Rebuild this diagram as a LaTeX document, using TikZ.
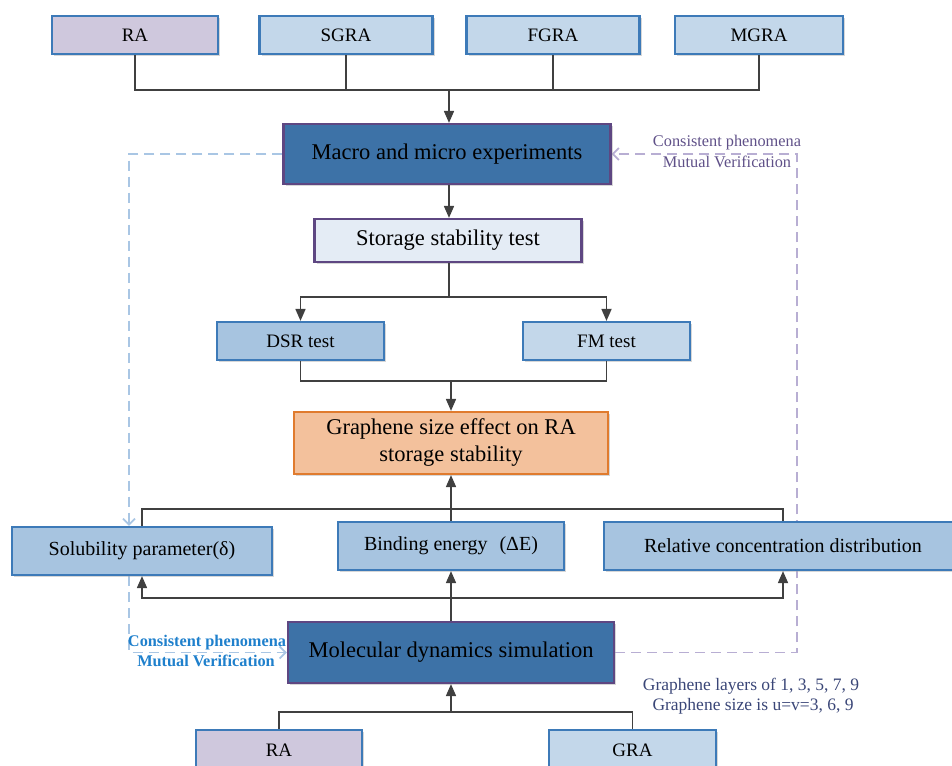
\documentclass[tikz,border=0pt]{standalone}
\usepackage{fontspec}
\setmainfont{Liberation Serif}
\usetikzlibrary{arrows.meta,shadows,backgrounds}
\definecolor{boxblue}{HTML}{3D7AB8}
\definecolor{lav}{HTML}{CFC8DD}
\definecolor{paleblue}{HTML}{C3D7EA}
\definecolor{midblue}{HTML}{A7C4E0}
\definecolor{darkblue}{HTML}{3D72A7}
\definecolor{purpleborder}{HTML}{5E4782}
\definecolor{storefill}{HTML}{E4ECF5}
\definecolor{orangefill}{HTML}{F3C19C}
\definecolor{orangeborder}{HTML}{E07B2E}
\definecolor{linegrey}{HTML}{404040}
\definecolor{dashblue}{HTML}{A9C6E4}
\definecolor{dashpurple}{HTML}{B8AED3}
\definecolor{txtpurple}{HTML}{5F5088}
\definecolor{txtblue}{HTML}{1F80CC}
\definecolor{txtnavy}{HTML}{3A4677}
\tikzset{
  base/.style={draw, line width=2.2pt, inner sep=0pt, text=black, align=center,
    drop shadow={shadow xshift=2pt, shadow yshift=-2pt, fill=black!35, opacity=0.45}},
  lavbox/.style={base, fill=lav, draw=boxblue},
  palebox/.style={base, fill=paleblue, draw=boxblue},
  midbox/.style={base, fill=midblue, draw=boxblue},
  darkbox/.style={base, fill=darkblue, draw=purpleborder},
  storebox/.style={base, fill=storefill, draw=purpleborder},
  orangebox/.style={base, fill=orangefill, draw=orangeborder},
  conn/.style={draw=linegrey, line width=1.7pt},
  arr/.style={conn, -{Triangle[length=12pt,width=10pt]}},
  dashb/.style={draw=dashblue, line width=1.8pt, dash pattern=on 10pt off 6pt, -{Straight Barb[length=6pt,width=12pt,line width=1.8pt]}},
  dashp/.style={draw=dashpurple, line width=1.8pt, dash pattern=on 10pt off 6pt, -{Straight Barb[length=6pt,width=12pt,line width=1.8pt]}},
  fsa/.style={font=\fontsize{19}{22}\selectfont},
  fsb/.style={font=\fontsize{20}{24}\selectfont},
  fsc/.style={font=\fontsize{22.5}{27}\selectfont},
}
\begin{document}
\begin{tikzpicture}[x=1pt,y=-1pt]
\useasboundingbox (0,0) rectangle (952,765);
\clip (0,0) rectangle (952,765);
% top row
\node[lavbox, fsa, minimum width=166pt, minimum height=38pt] (ra1) at (135,35) {RA};
\node[palebox, fsa, minimum width=173pt, minimum height=38pt] (sgra) at (346,35) {SGRA};
\node[palebox, fsa, minimum width=173pt, minimum height=38pt] (fgra) at (553,35) {FGRA};
\node[palebox, fsa, minimum width=168pt, minimum height=38pt] (mgra) at (759,35) {MGRA};
% main column
\node[darkbox, fsc, minimum width=327pt, minimum height=60pt] (macro) at (447,154) {Macro and micro experiments};
\node[storebox, fsc, minimum width=267pt, minimum height=43pt] (storage) at (448,240.5) {Storage stability test};
\node[midbox, fsa, minimum width=167pt, minimum height=38pt] (dsr) at (300.5,341) {DSR test};
\node[palebox, fsa, minimum width=167pt, minimum height=38pt] (fm) at (606.5,341) {FM test};
\node[orangebox, fsc, minimum width=314pt, minimum height=62pt] (graph) at (451,443) {Graphene size effect on RA\\storage stability};
\node[midbox, fsb, minimum width=260pt, minimum height=48pt] (sol) at (142,551) {Solubility parameter(δ)};
\node[midbox, fsb, minimum width=226pt, minimum height=48pt] (bind) at (451,546) {Binding energy\hspace{0.6em}(ΔE)};
\node[midbox, fsb, minimum width=358pt, minimum height=48pt] (rel) at (783,546) {Relative concentration distribution};
\node[darkbox, fsc, minimum width=326pt, minimum height=61pt] (mol) at (451,652.5) {Molecular dynamics simulation};
\node[lavbox, fsa, minimum width=166pt, minimum height=40pt] (ra2) at (279,750) {RA};
\node[palebox, fsa, minimum width=167pt, minimum height=40pt] (gra) at (632.5,750) {GRA};
% coordinates
\coordinate (b1) at (449,90);
\coordinate (b5) at (449,297);
\coordinate (b6) at (451,381);
\coordinate (b2) at (451,509);
\coordinate (b3) at (451,598);
\coordinate (b4) at (451,712);
\coordinate (dl) at (129,0);
\coordinate (dr) at (797,0);
% connectors
\draw[conn] (ra1.south) |- (b1) -| (mgra.south);
\draw[conn] (sgra.south) -- (sgra.south |- b1);
\draw[conn] (fgra.south) -- (fgra.south |- b1);
\draw[arr] (b1) -- (b1 |- macro.north);
\draw[arr] (b1 |- macro.south) -- (b1 |- storage.north);
\draw[conn] (b5 |- storage.south) -- (b5);
\draw[arr] (b5) -| (dsr.north);
\draw[arr] (b5) -| (fm.north);
\draw[conn] (dsr.south) |- (b6) -| (fm.south);
\draw[arr] (b6) -- (graph.north);
\draw[arr] (bind.north) -- (graph.south);
\draw[conn] (sol.north) |- (b2) -| (rel.north);
\draw[arr] (b3) -| (sol.south);
\draw[arr] (b3) -| (rel.south);
\draw[arr] (mol.north) -- (bind.south);
\draw[conn] (ra2.north) |- (b4) -| (gra.north);
\draw[arr] (b4) -- (mol.south);
% dashed verification loops (behind the boxes)
\begin{pgfonlayer}{background}
\draw[dashb] (macro.west) -| (sol.north -| dl);
\draw[dashb] (sol.south -| dl) |- (mol.west);
\draw[dashp] (mol.east) -| (macro.east -| dr) -- (macro.east);
\end{pgfonlayer}
% labels
\node[text=txtpurple, font=\fontsize{16.3}{19}\selectfont, inner sep=0pt] (lp1) at (727,143) {Consistent phenomena};
\node[text=txtpurple, font=\fontsize{16.3}{19}\selectfont, inner sep=0pt] (lp2) at (727,162) {Mutual Verification};
\node[text=txtblue, font=\bfseries\fontsize{16.3}{19}\selectfont, inner sep=0pt] (lb1) at (207,643) {Consistent phenomena};
\node[text=txtblue, font=\bfseries\fontsize{16.3}{19}\selectfont, inner sep=0pt] (lb2) at (206,661) {Mutual Verification};
\node[text=txtnavy, font=\fontsize{17.5}{20}\selectfont, inner sep=0pt] (g1) at (751,686) {Graphene layers of 1, 3, 5, 7, 9};
\node[text=txtnavy, font=\fontsize{17.5}{20}\selectfont, inner sep=0pt] (g2) at (753,706) {Graphene size is u=v=3, 6, 9};
\end{tikzpicture}
\end{document}
